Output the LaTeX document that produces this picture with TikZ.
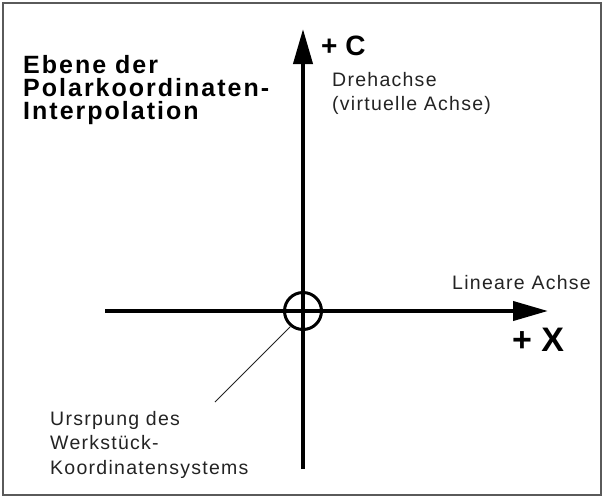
\documentclass[tikz,border=0pt]{standalone}
\usepackage{fontspec}
\usepackage{tikz}
\usetikzlibrary{arrows.meta}
\setmainfont{Liberation Sans}
\newfontfamily\labfont[LetterSpace=6.5]{Liberation Sans}
\newfontfamily\headfont[LetterSpace=8]{Liberation Sans}
\definecolor{frameGray}{RGB}{90, 90, 90}
\definecolor{textGray}{RGB}{35, 35, 35}

\begin{document}
\begin{tikzpicture}[x=1pt, y=-1pt,
    axis/.style={line width=4pt, -{Triangle[length=35pt, width=19pt]}},
    lab/.style={anchor=base west, inner sep=0pt, align=left, text=textGray,
      font=\labfont\fontsize{19.5}{23.5}\selectfont},
    head/.style={anchor=base west, inner sep=0pt, align=left,
      font=\headfont\bfseries\fontsize{25}{23}\selectfont},
    axname/.style={anchor=base west, inner sep=0pt, font=\bfseries}]
        \useasboundingbox (0,0) rectangle (604,498);
        \draw[frameGray, line width=1.5pt] (3,3) rectangle (601,495);
        % axes
        \coordinate (cbot) at (303,469);
        \coordinate (ctop) at (303,29);
        \coordinate (xleft) at (105,311);
        \coordinate (xright) at (548,311);
        \draw[axis] (cbot) -- (ctop);
        \draw[axis] (xleft) -- (xright);
        \node[circle, draw, line width=3pt, minimum size=37pt, inner sep=0pt] (origin) at (303,311) {};
        % labels (base = last line)
        \node[head] (plane) at (23,119) {Ebene der\\Polarkoordinaten-\\Interpolation};
        \node[axname, font=\bfseries\fontsize{28}{30}\selectfont] (cname) at (321,55) {+ C};
        \node[lab] (rot) at (332,110) {Drehachse\\(virtuelle Achse)};
        \node[lab] (lin) at (452,289) {Lineare Achse};
        \node[axname, font=\bfseries\fontsize{34}{36}\selectfont] (xname) at (512,351) {+ X};
        \node[lab, font=\labfont\fontsize{19.5}{24.5}\selectfont] (orig) at (50,474) {Ursrpung des\\Werkst\"uck-\\Koordinatensystems};
        \coordinate (leadend) at (215,402);
        \draw[textGray, line width=1pt] (origin.231) -- (leadend);
      \end{tikzpicture}
\end{document}
